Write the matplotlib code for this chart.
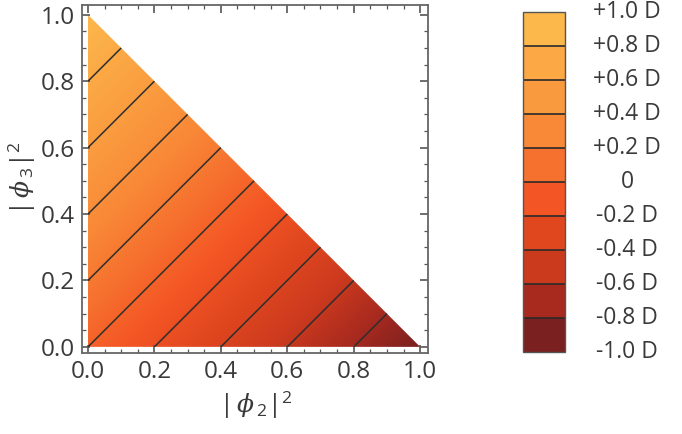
import numpy as np
import matplotlib.pyplot as plt
from matplotlib.colors import ListedColormap, LinearSegmentedColormap, BoundaryNorm
from matplotlib.patches import Polygon

plt.rcParams['font.family'] = ['Open Sans', 'DejaVu Sans']
plt.rcParams['mathtext.fontset'] = 'custom'
plt.rcParams['mathtext.rm'] = 'Open Sans'
plt.rcParams['mathtext.it'] = 'DejaVu Serif:italic'
plt.rcParams['contour.negative_linestyle'] = 'solid'

# contour levels of D = |phi3|^2 - |phi2|^2
levels = [-0.8, -0.6, -0.4, -0.2, 0.0, 0.2, 0.4, 0.6, 0.8]
bounds = [-1.0, -0.8, -0.6, -0.4, -0.2, 0.0, 0.2, 0.4, 0.6, 0.8, 1.0]
bar_labels = ['-1.0 D', '-0.8 D', '-0.6 D', '-0.4 D', '-0.2 D', '0',
              '+0.2 D', '+0.4 D', '+0.6 D', '+0.8 D', '+1.0 D']
band_colors = ['#7a2020', '#a82a1f', '#cc3a1e', '#e0471f', '#f45524',
               '#f6702e', '#f98837', '#fa9a3e', '#fba845', '#fdb84b']
ticks = [0.0, 0.2, 0.4, 0.6, 0.8, 1.0]

txt = '#3a3a3a'
fig = plt.figure(figsize=(6.82, 4.34), dpi=100)
ax = fig.add_axes([0.120, 0.187, 0.508, 0.802])

n = 400
x = np.linspace(0, 1, n)
X, Y = np.meshgrid(x, x)
Z = Y - X

smooth = LinearSegmentedColormap.from_list('d', band_colors)
tri = Polygon([[0, 0], [1, 0], [0, 1]], closed=True, transform=ax.transData,
              facecolor='none', edgecolor='none')
ax.add_patch(tri)
im = ax.imshow(Z, origin='lower', extent=[0, 1, 0, 1], cmap=smooth,
               vmin=-1, vmax=1, interpolation='bilinear')
im.set_clip_path(tri)
cs = ax.contour(X, Y, Z, levels=levels, colors='#2e2e2e', linewidths=1.1,
                linestyles='solid')
cs.set_clip_path(tri)

ax.set_xlim(-0.018, 1.024)
ax.set_ylim(-0.018, 1.03)
ax.set_xticks(ticks)
ax.set_yticks(ticks)
ax.set_xticks(np.arange(0, 1.01, 0.05), minor=True)
ax.set_yticks(np.arange(0, 1.01, 0.05), minor=True)
ax.set_xticklabels(['%.1f' % t for t in ticks])
ax.set_yticklabels(['%.1f' % t for t in ticks])
ax.tick_params(which='both', direction='in', top=True, right=True,
               colors='#555555', labelcolor=txt, labelsize=17.5)
ax.tick_params(which='major', length=6, width=1.2, pad=5)
ax.tick_params(which='minor', length=3, width=0.9)
for s in ax.spines.values():
    s.set_color('#666666')
    s.set_linewidth(1.3)
ax.set_xlabel(r'$|\,\phi_{\,\mathrm{2}}|^{2}$', fontsize=18, color=txt, labelpad=4)
ax.set_ylabel(r'$|\,\phi_{\,\mathrm{3}}|^{2}$', fontsize=18, color=txt, labelpad=2)

# discrete colour bar
cax = fig.add_axes([0.767, 0.189, 0.0616, 0.783])
cmap = ListedColormap(band_colors)
norm = BoundaryNorm(bounds, cmap.N)
cb = fig.colorbar(plt.cm.ScalarMappable(norm=norm, cmap=cmap), cax=cax,
                  boundaries=bounds, ticks=bounds, drawedges=True)
cb.outline.set_edgecolor('#555555')
cb.outline.set_linewidth(1.0)
cb.dividers.set_color('#2a2a2a')
cb.dividers.set_linewidth(1.2)
cax.set_yticklabels([])
cax.tick_params(length=0)
for b, lab in zip(bounds, bar_labels):
    cax.text(2.48, b, lab, transform=cax.get_yaxis_transform(), ha='center',
             va='center', fontsize=16.5, color=txt)

fig.savefig('out.png', dpi=100)
